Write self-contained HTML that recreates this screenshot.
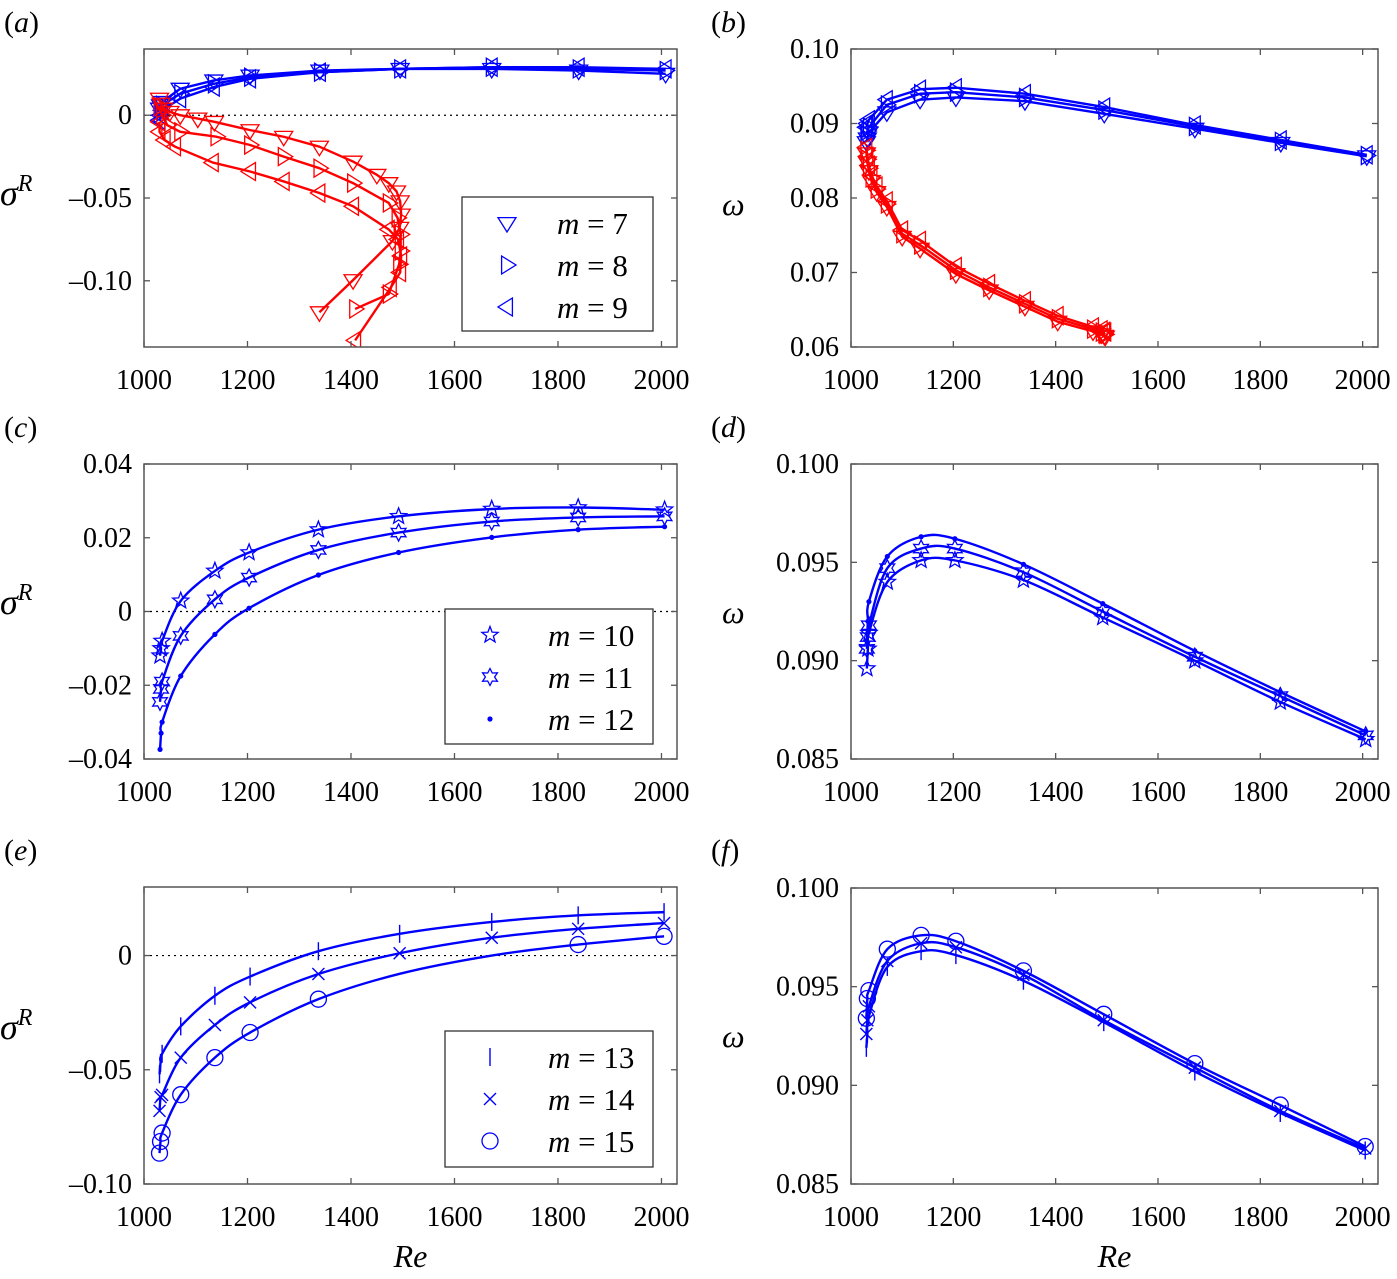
<!DOCTYPE html>
<html><head><meta charset="utf-8"><style>
html,body{margin:0;padding:0;background:#fff;}
svg{display:block;}
svg text{font-family:"Liberation Serif","DejaVu Serif",serif;}
</style></head><body>
<svg id="fig" width="1397" height="1279" viewBox="0 0 1397 1279" font-family="Liberation Serif, serif" xmlns="http://www.w3.org/2000/svg"></svg>
<script>
// ---------- data ----------
const xTicks=[1000,1200,1400,1600,1800,2000];
const reBlueAB=[1030,1032,1035,1070,1135,1205,1340,1495,1672,1840,2008];
const aBlue7=[0.004,0.006,0.008,0.016,0.021,0.024,0.027,0.028,0.028,0.027,0.025];
const aBlue8=[0.001,0.003,0.006,0.013,0.019,0.023,0.026,0.028,0.029,0.028,0.027];
const aBlue9=[-0.003,0.000,0.003,0.010,0.017,0.022,0.026,0.028,0.029,0.029,0.028];
const aRed7Re=[1030,1033,1038,1050,1070,1104,1136,1205,1270,1339,1404,1450,1473,1488,1495,1497,1494,1480,1404,1339];
const aRed7S=[0.010,0.007,0.004,0.002,0.000,-0.002,-0.004,-0.009,-0.013,-0.019,-0.028,-0.036,-0.041,-0.046,-0.052,-0.060,-0.068,-0.076,-0.0996,-0.119];
const aRed8Re=[1030,1035,1045,1070,1140,1205,1270,1339,1404,1473,1490,1496,1496,1493,1473,1408];
const aRed8S=[0.005,0.000,-0.006,-0.010,-0.013,-0.018,-0.025,-0.032,-0.041,-0.053,-0.062,-0.072,-0.082,-0.090,-0.108,-0.117];
const aRed9Re=[1030,1030,1040,1060,1133,1205,1270,1339,1404,1473,1491,1497,1495,1477,1408];
const aRed9S=[-0.004,-0.010,-0.015,-0.019,-0.0286,-0.034,-0.040,-0.047,-0.055,-0.069,-0.075,-0.085,-0.095,-0.104,-0.136];
const bBlue7=[0.0875,0.0880,0.0888,0.0915,0.0932,0.0935,0.0930,0.0913,0.0893,0.0874,0.0856];
const bBlue8=[0.0885,0.0890,0.0895,0.0925,0.0940,0.0942,0.0935,0.0918,0.0896,0.0876,0.0857];
const bBlue9=[0.0895,0.0900,0.0905,0.0932,0.0946,0.0948,0.0940,0.0922,0.0898,0.0878,0.0858];
const reRedB=[1030,1032,1035,1040,1050,1070,1100,1135,1205,1270,1340,1404,1473,1490,1495,1497];
const bRed7=[0.0860,0.0848,0.0836,0.0823,0.0808,0.0788,0.0748,0.0732,0.0698,0.0676,0.0654,0.0634,0.0621,0.0617,0.0615,0.0614];
const bRed8=[0.0864,0.0852,0.0840,0.0827,0.0812,0.0792,0.0752,0.0737,0.0703,0.0680,0.0658,0.0638,0.0624,0.0620,0.0618,0.0617];
const bRed9=[0.0868,0.0856,0.0844,0.0831,0.0816,0.0796,0.0757,0.0743,0.0708,0.0685,0.0662,0.0642,0.0627,0.0623,0.0621,0.0620];
const reCD=[1031,1033,1035,1071,1137,1203,1337,1492,1672,1839,2006];
const c10=[-0.012,-0.010,-0.008,0.0029,0.011,0.016,0.0222,0.0258,0.0278,0.0282,0.0276];
const c11=[-0.0245,-0.021,-0.019,-0.0066,0.0033,0.0092,0.0167,0.0214,0.0244,0.0255,0.0258];
const c12=[-0.0374,-0.033,-0.030,-0.0175,-0.0062,0.0009,0.0099,0.016,0.0201,0.0222,0.023];
const d10=[0.0896,0.0906,0.0914,0.0940,0.0951,0.0951,0.0941,0.0922,0.0900,0.0879,0.0860];
const d11=[0.0906,0.0912,0.0918,0.0947,0.0957,0.0957,0.0945,0.0925,0.0902,0.0882,0.0862];
const d12=[0.0910,0.0920,0.0930,0.0953,0.0963,0.0962,0.0949,0.0929,0.0905,0.0884,0.0864];
const reEF=[1030,1032,1035,1071,1137,1205,1337,1494,1672,1839,2005];
const e13=[-0.052,-0.047,-0.043,-0.031,-0.0176,-0.0092,0.0019,0.0095,0.0147,0.0176,0.019];
const e14=[-0.068,-0.062,-0.061,-0.0447,-0.0304,-0.0205,-0.0081,0.001,0.0078,0.0117,0.0142];
const e15=[-0.0865,-0.0814,-0.0777,-0.0609,-0.0447,-0.0337,-0.0191,-0.008,0.000,0.0048,0.0084];
const e15Marked=[true,true,true,true,true,true,true,false,false,true,true];
const f13=[0.0919,0.0926,0.0935,0.0960,0.0968,0.0966,0.0953,0.0932,0.0907,0.0886,0.0867];
const f14=[0.0926,0.0933,0.0940,0.0963,0.0972,0.0970,0.0956,0.0933,0.0909,0.0887,0.0868];
const f15=[0.0934,0.0944,0.0948,0.0969,0.0976,0.0973,0.0958,0.0936,0.0911,0.0890,0.0869];
const aYTicks=[0,-0.05,-0.10], aYLabels=["0","\u20130.05","\u20130.10"];
const bYTicks=[0.10,0.09,0.08,0.07,0.06], bYLabels=["0.10","0.09","0.08","0.07","0.06"];
const cYTicks=[0.04,0.02,0,-0.02,-0.04], cYLabels=["0.04","0.02","0","\u20130.02","\u20130.04"];
const dYTicks=[0.100,0.095,0.090,0.085], dYLabels=["0.100","0.095","0.090","0.085"];
const eYTicks=[0,-0.05,-0.10], eYLabels=["0","\u20130.05","\u20130.10"];

// ---------- drawing ----------
const NS="http://www.w3.org/2000/svg";
const FONT='Liberation Serif, serif';
const fig=document.getElementById('fig');
function mk(tag,attrs,parent){const e=document.createElementNS(NS,tag);for(const k in attrs)e.setAttribute(k,attrs[k]);if(tag==='text')e.setAttribute('font-family',FONT);(parent||fig).appendChild(e);return e;}
function smoothPath(pts){
  if(pts.length<3)return 'M'+pts.map(p=>p.join(',')).join('L');
  let d='M'+pts[0][0]+','+pts[0][1];
  for(let i=0;i<pts.length-1;i++){
    const p0=pts[Math.max(0,i-1)],p1=pts[i],p2=pts[i+1],p3=pts[Math.min(pts.length-1,i+2)];
    const c1=[p1[0]+(p2[0]-p0[0])/6,p1[1]+(p2[1]-p0[1])/6];
    const c2=[p2[0]-(p3[0]-p1[0])/6,p2[1]-(p3[1]-p1[1])/6];
    d+='C'+c1.join(',')+' '+c2.join(',')+' '+p2.join(',');
  }
  return d;
}
function marker(g,type,x,y,col){
  const s=9;let e;
  const st={fill:'none',stroke:col,'stroke-width':1.3};
  if(type==='tdown')e=mk('polygon',Object.assign({points:`${x-s},${y-s*0.6} ${x+s},${y-s*0.6} ${x},${y+s}`},st),g);
  else if(type==='tright')e=mk('polygon',Object.assign({points:`${x-s*0.6},${y-s} ${x-s*0.6},${y+s} ${x+s},${y}`},st),g);
  else if(type==='tleft')e=mk('polygon',Object.assign({points:`${x+s*0.6},${y-s} ${x+s*0.6},${y+s} ${x-s},${y}`},st),g);
  else if(type==='star5'){let p=[];for(let i=0;i<10;i++){const r=i%2?3.6:8.5,a=-Math.PI/2+i*Math.PI/5;p.push((x+r*Math.cos(a)).toFixed(1)+','+(y+r*Math.sin(a)).toFixed(1));}e=mk('polygon',Object.assign({points:p.join(' ')},st),g);}
  else if(type==='star6'){let p=[];for(let i=0;i<12;i++){const r=i%2?4.6:8.5,a=-Math.PI/2+i*Math.PI/6;p.push((x+r*Math.cos(a)).toFixed(1)+','+(y+r*Math.sin(a)).toFixed(1));}e=mk('polygon',Object.assign({points:p.join(' ')},st),g);}
  else if(type==='dot')e=mk('circle',{cx:x,cy:y,r:2.6,fill:col},g);
  else if(type==='vbar')e=mk('line',{x1:x,y1:y-9,x2:x,y2:y+9,stroke:col,'stroke-width':1.4},g);
  else if(type==='cross')e=mk('path',{d:`M${x-6},${y-6}L${x+6},${y+6}M${x-6},${y+6}L${x+6},${y-6}`,stroke:col,'stroke-width':1.4,fill:'none'},g);
  else if(type==='circ')e=mk('circle',Object.assign({cx:x,cy:y,r:8},st),g);
  
  
  return e;
}
function panel(cfg){
  const g=mk('g',{});
  
  
  const L=cfg.box[0],T=cfg.box[1],R=cfg.box[2],B=cfg.box[3];
  const sx=v=>L+(v-1000)/(2030-1000)*(R-L);
  const sy=v=>B-(v-cfg.yr[0])/(cfg.yr[1]-cfg.yr[0])*(B-T);
  const clip='clip-'+cfg.name;
  const cp=mk('clipPath',{id:clip},g);mk('rect',{x:L,y:T,width:R-L,height:B-T},cp);
  if(cfg.zero){const z=mk('line',{x1:L,x2:R,y1:sy(0),y2:sy(0),stroke:'#000','stroke-width':1.2,'stroke-dasharray':'2,4'},g);
    }
  const plot=mk('g',{'clip-path':`url(#${clip})`},g);
  cfg.series.forEach(s=>{
    const pts=s.x.map((xv,i)=>[+sx(xv).toFixed(2),+sy(s.y[i]).toFixed(2)]);
    const p=mk('path',{d:cfg.smooth?smoothPath(pts):'M'+pts.map(q=>q.join(',')).join('L'),fill:'none',stroke:s.col,'stroke-width':2.4,'stroke-linejoin':'round'},plot);
    
    
    pts.forEach((q,i)=>{if(!s.marked||s.marked[i])marker(plot,s.mk,q[0],q[1],s.col);});
  });
  const fr=mk('rect',{x:L,y:T,width:R-L,height:B-T,fill:'none',stroke:'#555','stroke-width':1.5},g);
  
  xTicks.forEach(t=>{const x=sx(t);
    mk('line',{x1:x,x2:x,y1:B,y2:B-6,stroke:'#555','stroke-width':1.3},g);
    mk('line',{x1:x,x2:x,y1:T,y2:T+6,stroke:'#555','stroke-width':1.3},g);
    const tx=mk('text',{x:x,y:B+42,'font-size':28,'text-anchor':'middle'},g);tx.textContent=t;
    
  });
  cfg.yt.forEach((t,i)=>{const y=sy(t);
    mk('line',{x1:L,x2:L+6,y1:y,y2:y,stroke:'#555','stroke-width':1.3},g);
    mk('line',{x1:R,x2:R-6,y1:y,y2:y,stroke:'#555','stroke-width':1.3},g);
    const tx=mk('text',{x:L-12,y:y+9,'font-size':28,'text-anchor':'end'},g);tx.textContent=cfg.yl[i];
    
  });
  const lt=mk('text',{x:cfg.letter[0],y:cfg.letter[1],'font-size':30},g);
  lt.innerHTML='(<tspan font-style="italic">'+cfg.letterTxt+'</tspan>)';
  
  const yl=mk('text',{x:cfg.ylab[0],y:cfg.ylab[1],'font-size':cfg.ylabSize||32,'font-style':'italic'},g);
  yl.innerHTML=cfg.ylabTxt;
  
  if(cfg.legend){const lg=cfg.legend;
    const lgG=mk('g',{},g);
    mk('rect',{x:lg.box[0],y:lg.box[1],width:lg.box[2],height:lg.box[3],fill:'#fff',stroke:'#333','stroke-width':1.3},lgG);
    lg.items.forEach((it,i)=>{const y=lg.box[1]+26+i*42;
      const eg=mk('g',{},lgG);
      marker(eg,it[0],lg.mx,y,'#00f');
      const t=mk('text',{x:lg.tx,y:y+11,'font-size':31},eg);
      t.innerHTML='<tspan font-style="italic">m</tspan> = '+it[1];
    });
  }
  if(cfg.xlab){const t=mk('text',{x:(L+R)/2,y:B+83,'font-size':32,'font-style':'italic','text-anchor':'middle'},g);t.textContent='Re';
    }
}
const LB=[144,677],RB=[851,1378];
const sig='\u03c3<tspan font-size="24" dy="-14">R</tspan>';
panel({name:'panel-a',box:[LB[0],49,LB[1],347],yr:[-0.14,0.04],zero:true,smooth:false,yt:aYTicks,yl:aYLabels,
  letter:[4,32],letterTxt:'a',ylab:[0,205],ylabTxt:sig,ylabSize:36,
  series:[
    {name:'m7-blue',x:reBlueAB,y:aBlue7,col:'#00f',mk:'tdown'},{name:'m8-blue',x:reBlueAB,y:aBlue8,col:'#00f',mk:'tright'},{name:'m9-blue',x:reBlueAB,y:aBlue9,col:'#00f',mk:'tleft'},
    {name:'m7-red',x:aRed7Re,y:aRed7S,col:'#f00',mk:'tdown'},{name:'m8-red',x:aRed8Re,y:aRed8S,col:'#f00',mk:'tright'},{name:'m9-red',x:aRed9Re,y:aRed9S,col:'#f00',mk:'tleft'}],
  legend:{box:[462,197,191,134],mx:507,tx:557,items:[['tdown','7'],['tright','8'],['tleft','9']]}});
panel({name:'panel-b',box:[RB[0],49,RB[1],347],yr:[0.06,0.1],smooth:false,yt:bYTicks,yl:bYLabels,
  letter:[711,32],letterTxt:'b',ylab:[722,215],ylabTxt:'\u03c9',
  series:[
    {name:'m7-blue',x:reBlueAB,y:bBlue7,col:'#00f',mk:'tdown'},{name:'m8-blue',x:reBlueAB,y:bBlue8,col:'#00f',mk:'tright'},{name:'m9-blue',x:reBlueAB,y:bBlue9,col:'#00f',mk:'tleft'},
    {name:'m7-red',x:reRedB,y:bRed7,col:'#f00',mk:'tdown'},{name:'m8-red',x:reRedB,y:bRed8,col:'#f00',mk:'tright'},{name:'m9-red',x:reRedB,y:bRed9,col:'#f00',mk:'tleft'}]});
panel({name:'panel-c',box:[LB[0],464,LB[1],759],yr:[-0.04,0.04],zero:true,smooth:true,yt:cYTicks,yl:cYLabels,
  letter:[4,437],letterTxt:'c',ylab:[0,614],ylabTxt:sig,ylabSize:36,
  series:[{name:'m10',x:reCD,y:c10,col:'#00f',mk:'star5'},{name:'m11',x:reCD,y:c11,col:'#00f',mk:'star6'},{name:'m12',x:reCD,y:c12,col:'#00f',mk:'dot'}],
  legend:{box:[445,609,208,135],mx:490,tx:548,items:[['star5','10'],['star6','11'],['dot','12']]}});
panel({name:'panel-d',box:[RB[0],464,RB[1],759],yr:[0.085,0.1],smooth:true,yt:dYTicks,yl:dYLabels,
  letter:[711,437],letterTxt:'d',ylab:[722,623],ylabTxt:'\u03c9',
  series:[{name:'m10',x:reCD,y:d10,col:'#00f',mk:'star5'},{name:'m11',x:reCD,y:d11,col:'#00f',mk:'star6'},{name:'m12',x:reCD,y:d12,col:'#00f',mk:'dot'}]});
panel({name:'panel-e',box:[LB[0],887,LB[1],1184],yr:[-0.10,0.03],zero:true,smooth:true,yt:eYTicks,yl:eYLabels,
  letter:[4,860],letterTxt:'e',ylab:[0,1039],ylabTxt:sig,ylabSize:36,xlab:true,
  series:[{name:'m13',x:reEF,y:e13,col:'#00f',mk:'vbar'},{name:'m14',x:reEF,y:e14,col:'#00f',mk:'cross'},{name:'m15',x:reEF,y:e15,col:'#00f',mk:'circ',marked:e15Marked}],
  legend:{box:[445,1031,208,136],mx:490,tx:548,items:[['vbar','13'],['cross','14'],['circ','15']]}});
panel({name:'panel-f',box:[RB[0],888,RB[1],1184],yr:[0.085,0.1],smooth:true,yt:dYTicks,yl:dYLabels,xlab:true,
  letter:[711,860],letterTxt:'f',ylab:[722,1047],ylabTxt:'\u03c9',
  series:[{name:'m13',x:reEF,y:f13,col:'#00f',mk:'vbar'},{name:'m14',x:reEF,y:f14,col:'#00f',mk:'cross'},{name:'m15',x:reEF,y:f15,col:'#00f',mk:'circ'}]});
</script>
</body></html>
